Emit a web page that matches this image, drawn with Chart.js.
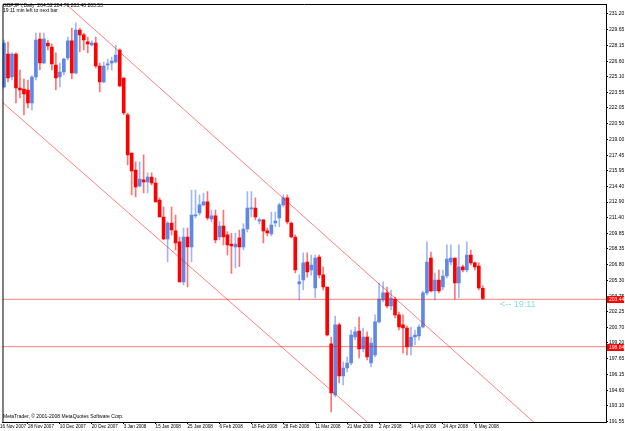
<!DOCTYPE html>
<html>
<head>
<meta charset="utf-8">
<script src="https://cdn.jsdelivr.net/npm/chart.js@4.4.1/dist/chart.umd.min.js"></script>
<style>
html, body { margin: 0; padding: 0; background: #fff; overflow: hidden; }
#wrap { width: 625px; height: 431px; position: relative; }
</style>
</head>
<body>
<div id="wrap"><canvas id="chart"></canvas></div>
<script>
// GBPJPY daily, bar index 2 = 20 Nov 2007 ... 122 = 8 May 2008
var firstBar = 2;
var opens = [
	224.09, 227.30, 225.06, 227.30, 223.99, 223.89, 223.80, 222.53, 225.06, 228.76,
	226.42, 228.37, 227.98, 226.23, 225.06, 225.55, 226.91, 228.57, 225.45, 229.63,
	229.15, 228.47, 228.17, 228.37, 226.13, 224.58, 226.23, 226.42, 226.52, 227.69,
	224.96, 221.37, 217.67, 216.02, 214.46, 215.05, 214.85, 215.34, 214.75, 213.10,
	211.45, 209.31, 210.86, 210.09, 209.02, 205.13, 209.50, 208.53, 211.55, 211.84,
	212.62, 212.91, 211.25, 211.55, 209.50, 210.57, 209.70, 208.82, 208.53, 209.41,
	208.53, 210.28, 212.23, 212.32, 211.06, 211.16, 210.09, 209.80, 210.86, 211.35,
	212.62, 213.30, 210.86, 209.50, 204.93, 205.32, 207.07, 206.29, 204.54, 207.56,
	205.81, 204.64, 199.10, 194.14, 200.95, 195.98, 196.76, 197.25, 199.78, 200.36,
	198.61, 199.78, 197.25, 198.03, 201.24, 203.38, 204.06, 202.79, 203.47, 201.92,
	200.95, 200.65, 198.90, 199.78, 199.88, 200.75, 204.06, 207.46, 204.25, 205.32,
	204.64, 205.71, 207.07, 207.46, 205.03, 206.59, 206.29, 207.75, 206.98, 206.68,
	204.52
];
var highs = [
	228.66, 228.47, 227.40, 227.40, 225.74, 224.87, 224.77, 225.20, 229.34, 229.34,
	229.34, 228.66, 228.27, 227.40, 226.42, 226.91, 228.95, 229.83, 230.32, 229.83,
	229.34, 228.95, 228.57, 228.95, 226.42, 226.52, 226.81, 227.01, 228.17, 227.79,
	225.00, 221.56, 217.67, 216.80, 216.80, 217.48, 215.74, 215.74, 215.24, 213.30,
	212.42, 211.00, 212.42, 211.64, 209.50, 210.38, 210.38, 214.07, 214.07, 213.59,
	213.78, 213.91, 212.13, 212.13, 211.00, 212.13, 210.02, 209.86, 209.86, 210.18,
	210.77, 213.91, 213.91, 213.30, 211.35, 211.16, 210.38, 211.93, 211.93, 212.81,
	213.59, 213.59, 210.96, 209.70, 205.81, 207.95, 207.95, 207.75, 207.75, 207.75,
	206.59, 204.64, 199.78, 201.82, 201.14, 197.34, 197.83, 200.46, 200.75, 201.72,
	200.65, 200.27, 199.68, 201.92, 205.03, 205.13, 204.64, 204.35, 203.67, 202.21,
	201.92, 200.85, 200.75, 200.46, 200.95, 204.25, 209.02, 208.04, 206.00, 206.29,
	206.29, 208.73, 208.73, 207.46, 208.73, 206.78, 209.02, 208.24, 207.07, 206.98,
	204.76
];
var lows = [
	223.99, 224.58, 224.77, 222.53, 223.02, 221.37, 222.05, 221.85, 224.77, 225.74,
	226.33, 227.69, 225.74, 223.80, 224.09, 225.26, 226.72, 224.87, 225.35, 227.49,
	227.69, 227.40, 228.08, 225.94, 223.60, 224.48, 225.74, 225.74, 226.42, 224.09,
	221.40, 216.50, 213.59, 213.39, 214.37, 213.78, 213.78, 214.56, 212.91, 211.45,
	209.21, 207.07, 209.70, 208.24, 205.13, 204.83, 204.64, 207.07, 211.35, 211.64,
	212.52, 211.16, 210.96, 208.92, 209.21, 208.73, 207.75, 205.97, 206.50, 206.62,
	208.24, 209.99, 211.45, 211.16, 210.77, 208.92, 209.60, 209.60, 210.51, 210.51,
	212.42, 210.77, 209.41, 206.00, 203.38, 204.35, 205.60, 205.80, 203.57, 205.52,
	204.35, 199.88, 192.49, 193.94, 195.30, 195.11, 196.37, 197.05, 199.49, 197.73,
	198.32, 197.54, 196.86, 197.83, 201.14, 203.18, 202.60, 202.40, 201.63, 200.46,
	198.22, 198.03, 198.03, 199.00, 199.49, 200.65, 203.86, 204.15, 203.38, 204.06,
	204.35, 205.52, 206.78, 203.47, 203.57, 206.10, 206.10, 206.78, 206.29, 204.35,
	203.40
];
var closes = [
	228.37, 224.96, 227.30, 223.99, 223.80, 223.41, 222.53, 225.06, 228.66, 226.42,
	228.76, 228.08, 226.33, 224.96, 225.55, 226.81, 228.57, 225.45, 229.63, 229.15,
	228.66, 228.27, 228.37, 226.13, 224.58, 226.13, 226.33, 226.62, 227.20, 224.19,
	221.56, 217.48, 215.92, 214.37, 215.14, 214.85, 215.34, 214.75, 212.91, 211.45,
	209.31, 210.86, 210.18, 208.92, 205.13, 209.50, 208.53, 211.64, 211.64, 212.62,
	212.91, 211.35, 211.55, 209.21, 210.57, 209.50, 208.73, 208.63, 208.82, 208.53,
	210.28, 212.32, 212.32, 211.45, 211.16, 210.09, 209.89, 210.67, 211.06, 212.62,
	213.30, 210.96, 209.50, 206.29, 205.13, 206.98, 206.10, 206.78, 207.46, 205.81,
	204.64, 199.97, 194.33, 200.95, 195.98, 196.76, 197.25, 199.97, 200.27, 198.61,
	199.78, 197.83, 199.19, 201.24, 203.47, 204.06, 202.79, 203.57, 201.92, 200.75,
	200.65, 198.81, 199.78, 199.97, 200.75, 204.06, 207.07, 204.25, 205.32, 204.25,
	205.71, 207.36, 207.46, 205.03, 206.59, 206.29, 207.75, 206.98, 206.59, 204.54,
	203.53
];

// time axis labels (partly hidden first label, then every 8th bar)
var firstDateLabel = '16 Nov 2007';
var firstDateBar = 1;
var dateBars   = [8, 16, 24, 32, 40, 48, 56, 64, 72, 80, 88, 96, 104, 112, 120];
var dateLabels = ['28 Nov 2007', '10 Dec 2007', '20 Dec 2007', '3 Jan 2008', '15 Jan 2008',
	'25 Jan 2008', '6 Feb 2008', '18 Feb 2008', '28 Feb 2008', '11 Mar 2008', '21 Mar 2008',
	'2 Apr 2008', '14 Apr 2008', '24 Apr 2008', '6 May 2008'];

var priceTicks = [231.20, 229.65, 228.15, 226.60, 225.10, 223.55, 222.05, 220.50, 219.00,
	217.45, 215.95, 214.40, 212.90, 211.40, 209.85, 208.35, 206.80, 205.30, 203.75,
	202.25, 200.70, 199.20, 197.65, 196.15, 194.60, 193.10, 191.55];

// drawn objects: channel (bar, price) and level lines
var upperChannel = [[17.5, 232.17], [140, 189.68]];
var lowerChannel = [[1, 222.80], [94, 191.18]];
var bidLevel  = 203.44;
var lineLevel = 198.84;

var headerText = 'GBPJPY,Daily  204.52 204.76 203.40 203.53';
var subText    = '19:11 min left to next bar';
var footerText = 'MetaTrader, \u00a9 2001-2008 MetaQuotes Software Corp.';
var timerText  = '<-- 19:11';

var xMin = 1.625, xMax = 152.875;
var upColor = '#5f88e8', downColor = '#ff0000';
var lineColor = 'rgba(255,0,0,0.5)';

var wicks = [], bodies = [], wickColors = [], bodyColors = [];
for (var k = 0; k < opens.length; k++) {
	var up = closes[k] >= opens[k];
	wicks.push({x: firstBar + k, y: [lows[k], highs[k]]});
	bodies.push({x: firstBar + k, y: [opens[k], closes[k]]});
	wickColors.push(up ? 'rgba(95,136,232,0.6)' : 'rgba(255,0,0,0.55)');
	bodyColors.push(up ? upColor : downColor);
}

function toPoints(arr) {
	return arr.map(function(p) { return {x: p[0], y: p[1]}; });
}

var smallFont = {family: 'Liberation Sans', size: 5};
var dateFont  = {family: 'Liberation Sans', size: 4.6};

var overlay = {
	id: 'overlay',
	afterDraw: function(chart) {
		var ctx = chart.ctx, a = chart.chartArea, ys = chart.scales.y;
		ctx.save();
		ctx.strokeStyle = '#000';
		ctx.lineWidth = 1;
		ctx.beginPath();
		ctx.moveTo(a.left + 0.5, a.bottom);
		ctx.lineTo(a.left + 0.5, a.top + 0.5);
		ctx.lineTo(a.right, a.top + 0.5);
		ctx.stroke();

		ctx.fillStyle = '#000';
		ctx.font = '5px "Liberation Sans"';
		ctx.textBaseline = 'middle';
		ctx.textAlign = 'left';
		ctx.fillText(headerText, 3, 6);
		ctx.fillText(subText, 3, 11);
		ctx.fillText(footerText, 3, 417);

		[bidLevel, lineLevel].forEach(function(v) {
			var py = ys.getPixelForValue(v);
			ctx.fillStyle = '#ff0000';
			ctx.fillRect(a.right + 1, Math.round(py) - 3, 17, 7);
			ctx.fillStyle = '#fff';
			ctx.fillText(v.toFixed(2), a.right + 3, Math.round(py) + 0.5);
		});

		ctx.fillStyle = '#86dbe6';
		ctx.font = '9px "Liberation Sans"';
		ctx.fillText(timerText, 500, ys.getPixelForValue(bidLevel) + 5);
		ctx.restore();
	}
};

new Chart(document.getElementById('chart'), {
	type: 'bar',
	data: {
		datasets: [
			{ type: 'line', data: toPoints(upperChannel), borderColor: lineColor, borderWidth: 1, pointRadius: 0, clip: 0 },
			{ type: 'line', data: toPoints(lowerChannel), borderColor: lineColor, borderWidth: 1, pointRadius: 0, clip: 0 },
			{ type: 'line', data: [{x: xMin, y: bidLevel}, {x: xMax, y: bidLevel}], borderColor: lineColor, borderWidth: 1, pointRadius: 0, clip: 0 },
			{ type: 'line', data: [{x: xMin, y: lineLevel}, {x: xMax, y: lineLevel}], borderColor: lineColor, borderWidth: 1, pointRadius: 0, clip: 0 },
			{ data: wicks, backgroundColor: wickColors, barThickness: 1, grouped: false, clip: 0 },
			{ data: bodies, backgroundColor: bodyColors, barThickness: 3, minBarLength: 1, grouped: false, clip: 0 }
		]
	},
	options: {
		responsive: true,
		maintainAspectRatio: false,
		animation: false,
		events: [],
		layout: { padding: { left: 1, top: 4, right: 0, bottom: 0 } },
		plugins: { legend: { display: false }, tooltip: { enabled: false } },
		scales: {
			x: {
				type: 'linear',
				min: xMin,
				max: xMax,
				offset: false,
				grid: { display: true, drawOnChartArea: false, offset: false, tickLength: 2, color: '#000' },
				border: { display: true, color: '#000' },
				afterBuildTicks: function(scale) {
					scale.ticks = [{value: firstDateBar}].concat(dateBars.map(function(v) { return {value: v}; }));
				},
				afterFit: function(scale) { scale.height = 9; },
				ticks: {
					autoSkip: false, maxRotation: 0, minRotation: 0, align: 'start', padding: 0,
					color: '#000', font: dateFont,
					callback: function(v) {
						if (v === firstDateBar) return firstDateLabel;
						return dateLabels[dateBars.indexOf(v)];
					}
				}
			},
			y: {
				position: 'right',
				min: 191.51,
				max: 232.16,
				grid: { display: true, drawOnChartArea: false, tickLength: 2, color: '#000' },
				border: { display: true, color: '#000' },
				afterBuildTicks: function(scale) {
					scale.ticks = priceTicks.map(function(v) { return {value: v}; });
				},
				afterFit: function(scale) { scale.width = 19; },
				ticks: {
					padding: 1, color: '#000', font: smallFont,
					callback: function(v) { return v.toFixed(2); }
				}
			}
		}
	},
	plugins: [overlay]
});
</script>
</body>
</html>
